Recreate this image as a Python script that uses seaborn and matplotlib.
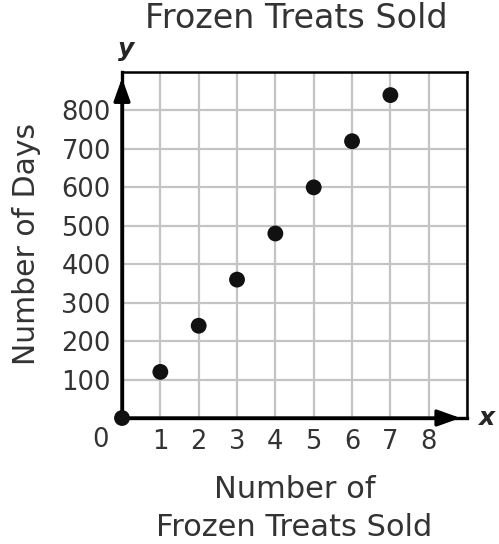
import matplotlib
matplotlib.use("Agg")
import matplotlib.pyplot as plt
import seaborn as sns
import pandas as pd

treats = [0, 1, 2, 3, 4, 5, 6, 7]
days = [0, 120, 240, 360, 480, 600, 720, 840]
x_ticks = [1, 2, 3, 4, 5, 6, 7, 8]
y_ticks = [100, 200, 300, 400, 500, 600, 700, 800]

df = pd.DataFrame({"treats": treats, "days": days})

sns.set_style("white")
plt.rcParams['font.family'] = ['DejaVu Sans']
txt = '#333333'

fig = plt.figure(figsize=(4.99, 5.44), dpi=100)
ax = fig.add_axes([0.2445, 0.2316, 0.6915, 0.636])

ax.set_xlim(0, 9)
ax.set_ylim(0, 900)
ax.set_xticks(range(0, 10))
ax.set_yticks(range(0, 1000, 100))
ax.grid(True, color='#c4c4c4', linewidth=1.6)
ax.set_axisbelow(True)

ax.set_xticklabels([''] + [str(v) for v in x_ticks] + [''])
ax.set_yticklabels([''] + [str(v) for v in y_ticks] + [''])
ax.tick_params(length=0, labelsize=18.5, colors=txt, pad=8)

for s in ['top', 'right']:
    ax.spines[s].set_color('black')
    ax.spines[s].set_linewidth(1.8)
for s in ['left', 'bottom']:
    ax.spines[s].set_color('black')
    ax.spines[s].set_linewidth(2.4)

# axis arrows
arrow = dict(arrowstyle='-|>,head_length=1.4,head_width=0.5', color='black', lw=2.4)
ax.annotate('', xy=(0, 892), xytext=(0, 0), arrowprops=arrow, annotation_clip=False)
ax.annotate('', xy=(8.9, 0), xytext=(0, 0), arrowprops=arrow, annotation_clip=False)

sns.scatterplot(data=df, x='treats', y='days', ax=ax, color='#111111', s=130,
                edgecolor='none', clip_on=False, zorder=5)

ax.set_xlabel('Number of\nFrozen Treats Sold', fontsize=22, color=txt, linespacing=1.38)
ax.xaxis.set_label_coords(0.5, -0.165)
ax.set_ylabel('Number of Days', fontsize=21.5, color=txt)
ax.yaxis.set_label_coords(-0.235, 0.503)
fig.text(296 / 499, 1 - 19 / 544, 'Frozen Treats Sold', fontsize=24, color=txt,
         ha='center', va='center')

ax.text(-0.55, -58, '0', fontsize=18.5, color=txt, ha='center', va='center')
ax.text(0.1, 960, 'y', fontsize=18, fontweight='bold', style='italic', ha='center', va='center')
ax.text(9.5, 0, 'x', fontsize=18, fontweight='bold', style='italic', ha='center', va='center')

fig.savefig('out.png', dpi=100)
